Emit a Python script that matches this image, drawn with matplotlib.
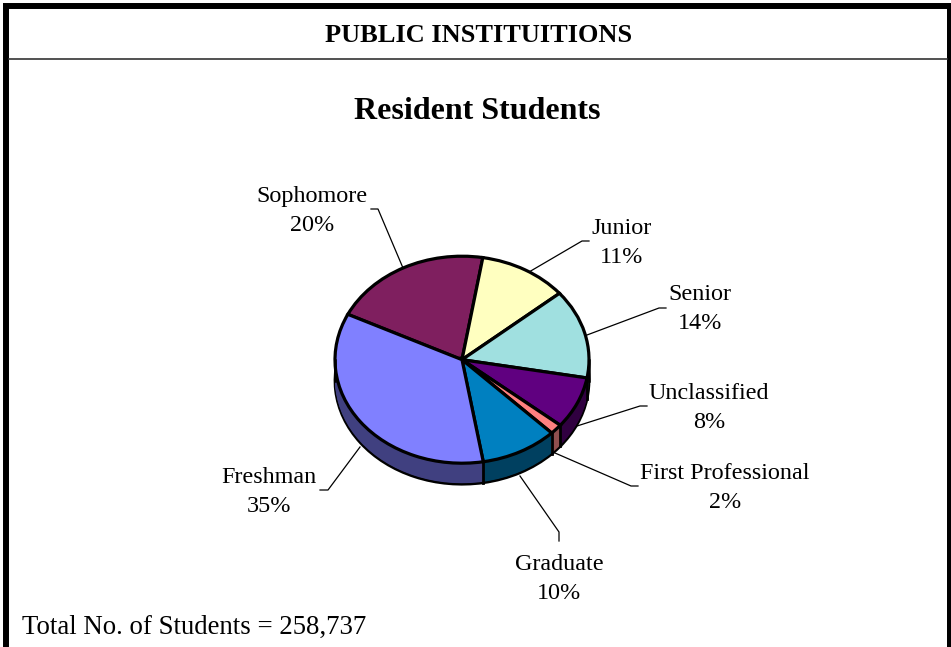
import numpy as np
import matplotlib
matplotlib.use('Agg')
import matplotlib.pyplot as plt

plt.rcParams['font.family'] = ['Liberation Serif', 'DejaVu Serif']

categories = ['Sophomore', 'Junior', 'Senior', 'Unclassified', 'First Professional', 'Graduate', 'Freshman']
shares = [20.4, 11.3, 13.9, 8.1, 1.6, 9.8, 34.9]
top_colors = ['#7f1f5f', '#ffffc0', '#a0e0e0', '#600080', '#ff8080', '#0080c0', '#8080ff']
side_colors = ['#3f0f2f', '#80805f', '#507070', '#300040', '#8f4f4f', '#004060', '#404080']

W, H = 951, 647
# label centres, in picture pixels
label_pos = [(312, 211), (622, 243), (700, 309), (709, 408), (725, 488), (559, 579), (269, 492)]
leaders = [
    [(371, 209), (378, 209), (403, 268)],
    [(589, 241), (582, 241), (529, 272)],
    [(666, 308), (659, 308), (587, 335)],
    [(647, 406), (640, 406), (577, 426)],
    [(638, 486), (631, 486), (555, 453)],
    [(559, 541), (559, 532), (520, 476)],
    [(320, 490), (328, 490), (360, 447)],
]

cx, cy, rx, ry, depth = 462, 359.7, 127, 103.5, 21

fig = plt.figure(figsize=(W / 100, H / 100), dpi=100)
bg = fig.add_axes([0, 0, 1, 1])
bg.set_xlim(0, W)
bg.set_ylim(H, 0)
bg.axis('off')

# frame, open at the bottom
bg.plot([6, 6], [H, 6], color='black', lw=4.3, solid_capstyle='butt')
bg.plot([3, 951], [6, 6], color='black', lw=4.3, solid_capstyle='butt')
bg.plot([949.2, 949.2], [3, H], color='black', lw=3.6, solid_capstyle='butt')
bg.plot([9, 947], [59, 59], color='#333333', lw=1.2)

bg.text(479, 35.5, 'PUBLIC INSTITUITIONS', ha='center', va='center', fontsize=19, fontweight='bold')
bg.text(477, 111.5, 'Resident Students', ha='center', va='center', fontsize=23, fontweight='bold')
bg.text(22, 627, 'Total No. of Students = 258,737', ha='left', va='center', fontsize=19.3)

ax = fig.add_axes([(cx - rx) / W, (H - cy - ry) / H, 2 * rx / W, 2 * ry / H])
ax.patch.set_alpha(0)
d = depth / ry
start = 154

# side wall: stack of dark pies, the lowest carries the outline
for k in np.linspace(d, 0, 22):
    edge = 'black' if k == d else 'none'
    ax.pie(shares, colors=side_colors, startangle=start, counterclock=False, center=(0, -k),
           wedgeprops=dict(edgecolor=edge, linewidth=2))

top, _ = ax.pie(shares, colors=top_colors, startangle=start, counterclock=False,
                wedgeprops=dict(edgecolor='black', linewidth=2.3))
ax.set_aspect('auto')
ax.set_xlim(-1, 1)
ax.set_ylim(-1, 1)
ax.axis('off')

# vertical edges on the front of the wall
for w in top:
    t = np.deg2rad(w.theta1)
    if np.sin(t) < 0:
        ax.plot([np.cos(t)] * 2, [np.sin(t), np.sin(t) - d], color='black', lw=2, clip_on=False, zorder=5)
for sx in (-1, 1):
    ax.plot([sx, sx], [0, -d], color='black', lw=1.8, clip_on=False, zorder=1.5)

for p in ax.patches:
    p.set_clip_on(False)

for name, val, (x, y), line in zip(categories, shares, label_pos, leaders):
    bg.text(x, y, f'{name}\n{round(val)}%', ha='center', va='center', fontsize=17.4, linespacing=1.55)
    xs, ys = zip(*line)
    bg.plot(xs, ys, color='black', lw=0.9)

fig.savefig('out.png', dpi=100)
